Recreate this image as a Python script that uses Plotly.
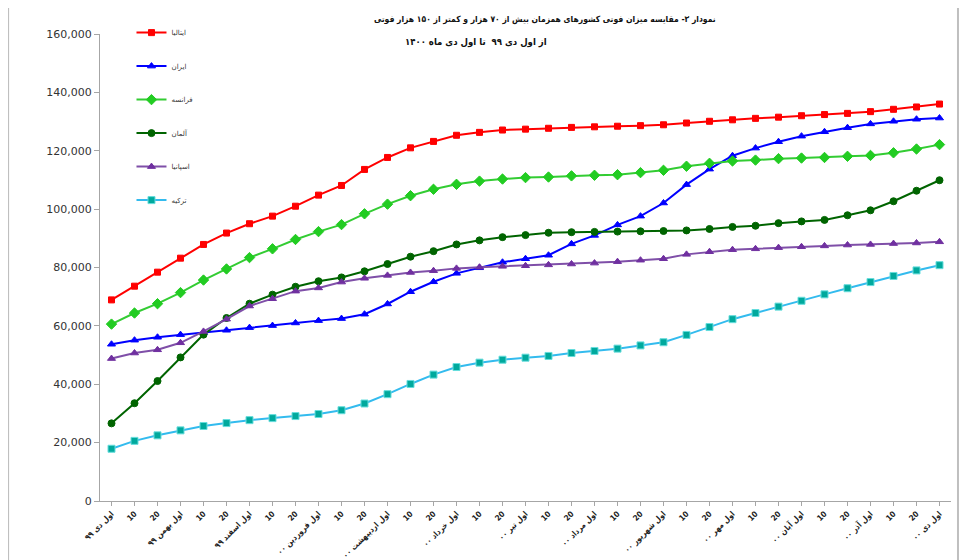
import plotly.graph_objects as go

tick_labels = [
    "اول دی ۹۹", "10", "20", "اول بهمن ۹۹", "10", "20", "اول اسفند ۹۹", "10", "20",
    "اول فروردین ۰۰", "10", "20", "اول اردیبهشت ۰۰", "10", "20", "اول خرداد ۰۰", "10", "20",
    "اول تیر ۰۰", "10", "20", "اول مرداد ۰۰", "10", "20", "اول شهریور ۰۰", "10", "20",
    "اول مهر ۰۰", "10", "20", "اول آبان ۰۰", "10", "20", "اول آذر ۰۰", "10", "20",
    "اول دی ۰۰",
]

italy = [68900, 73600, 78400, 83200, 87900, 91800, 95000, 97600, 101000, 104800, 108100,
         113600, 117700, 121000, 123200, 125300, 126300, 127100, 127400, 127700, 128000,
         128200, 128400, 128600, 128900, 129500, 130100, 130600, 131100, 131500, 132000,
         132400, 132800, 133400, 134200, 135000, 136000]
iran = [53700, 55100, 56100, 57000, 57700, 58500, 59400, 60100, 61000, 61800, 62500,
        64000, 67500, 71700, 75100, 78000, 79900, 81800, 83000, 84200, 88100, 91000,
        94600, 97600, 102100, 108400, 113700, 118300, 120900, 123100, 125000, 126500,
        127900, 129200, 130100, 130800, 131200]
france = [60600, 64400, 67600, 71400, 75700, 79500, 83400, 86400, 89600, 92300, 94700,
          98400, 101700, 104600, 106800, 108500, 109600, 110300, 110800, 111000, 111400,
          111600, 111800, 112500, 113300, 114700, 115700, 116500, 116800, 117300, 117500,
          117700, 118100, 118400, 119300, 120600, 122100]
germany = [26600, 33500, 41100, 49200, 57000, 62700, 67600, 70700, 73400, 75300, 76600,
           78700, 81200, 83700, 85600, 87900, 89300, 90400, 91100, 91900, 92100, 92200,
           92300, 92400, 92500, 92700, 93200, 93900, 94300, 95200, 95800, 96300, 97900,
           99600, 102700, 106300, 109900]
spain = [48800, 50700, 51800, 54200, 58100, 62300, 66800, 69300, 71900, 73000, 75000,
         76300, 77300, 78300, 78900, 79700, 80100, 80400, 80600, 80900, 81200, 81500,
         82000, 82500, 83000, 84500, 85400, 86100, 86400, 86800, 87100, 87400, 87700,
         87900, 88200, 88400, 88800]
turkey = [17900, 20600, 22500, 24200, 25700, 26700, 27700, 28400, 29100, 29800, 31100,
          33400, 36600, 40100, 43300, 45900, 47400, 48400, 49100, 49700, 50700, 51400,
          52200, 53300, 54400, 56900, 59600, 62300, 64400, 66600, 68600, 70800, 72900,
          75000, 77100, 79000, 80800]

names = ["ایتالیا", "ایران", "فرانسه", "آلمان", "اسپانیا", "ترکیه"]
series = [italy, iran, france, germany, spain, turkey]
line_colors = ["#ff0000", "#0000ff", "#33cc33", "#006400", "#7f4fa8", "#33bbee"]
marker_colors = ["#ff0000", "#0000ff", "#22cc22", "#006400", "#7030a0", "#00a99d"]
marker_symbols = ["square", "triangle-up", "diamond", "circle", "triangle-up", "square"]
marker_sizes = [6, 7, 8, 7, 7, 7]
marker_lines = ["#ff0000", "#0000ff", "#22cc22", "#006400", "#7030a0", "#66dddd"]

title_line1 = "نمودار ۳- مقایسه میزان فوتی کشورهای همزمان بیش از ۷۰ هزار و کمتر از ۱۵۰ هزار فوتی"
title_line2 = "از اول دی ۹۹  تا اول دی ماه ۱۴۰۰"

x = list(range(len(tick_labels)))

fig = go.Figure()
for i in range(len(names)):
    fig.add_trace(go.Scatter(
        x=x, y=series[i], name=names[i], mode="lines+markers",
        legendgroup=f"g{i}",
        line=dict(color=line_colors[i], width=2),
        marker=dict(symbol=marker_symbols[i], size=marker_sizes[i], color=marker_colors[i],
                    line=dict(color=marker_lines[i], width=1)),
    ))

fig.update_layout(
    width=967, height=560,
    margin=dict(l=92, r=24, t=26, b=67, autoexpand=False),
    paper_bgcolor="white", plot_bgcolor="white",
    font=dict(family="DejaVu Sans, Arial", color="#222"),
    showlegend=True,
    legend=dict(
        x=0.037, y=1.034, xanchor="left", yanchor="top",
        bgcolor="rgba(0,0,0,0)", font=dict(size=7, color="#333"),
        tracegroupgap=14.5, itemwidth=30,
    ),
    xaxis=dict(
        range=[-0.5, len(tick_labels) - 0.5], automargin=False,
        tickmode="array", tickvals=x, ticktext=[f"<b>{t}</b>" for t in tick_labels],
        tickangle=-45,
        tickfont=dict(size=8, color="#222", family="DejaVu Sans Condensed, DejaVu Sans"),
        showgrid=False, zeroline=False,
        showline=True, linecolor="#a6a6a6", linewidth=1,
        ticks="outside", ticklen=4, tickcolor="#a6a6a6",
    ),
    yaxis=dict(
        range=[0, 160000], dtick=20000, tickformat=",", automargin=False,
        tickfont=dict(size=11, color="#333"),
        showgrid=False, zeroline=False,
        showline=True, linecolor="#a6a6a6", linewidth=1,
        ticks="outside", ticklen=5, tickcolor="#a6a6a6",
    ),
)

fig.add_annotation(text=f"<b>{title_line1}</b>", xref="paper", yref="paper",
                   x=0.523, y=1.030, xanchor="center", yanchor="middle", showarrow=False,
                   font=dict(size=8.5, color="#111", family="DejaVu Sans Condensed, DejaVu Sans"))
fig.add_annotation(text=f"<b>{title_line2}</b>", xref="paper", yref="paper",
                   x=0.442, y=0.983, xanchor="center", yanchor="middle", showarrow=False,
                   font=dict(size=9.5, color="#111", family="DejaVu Sans Condensed, DejaVu Sans"))

fig.add_shape(type="rect", xref="paper", yref="paper",
              x0=-0.108, x1=1.0082, y0=-0.2, y1=1.0685,
              line=dict(color="#bfbfbf", width=2), fillcolor="rgba(0,0,0,0)", layer="below")

fig.write_html("out.html")
